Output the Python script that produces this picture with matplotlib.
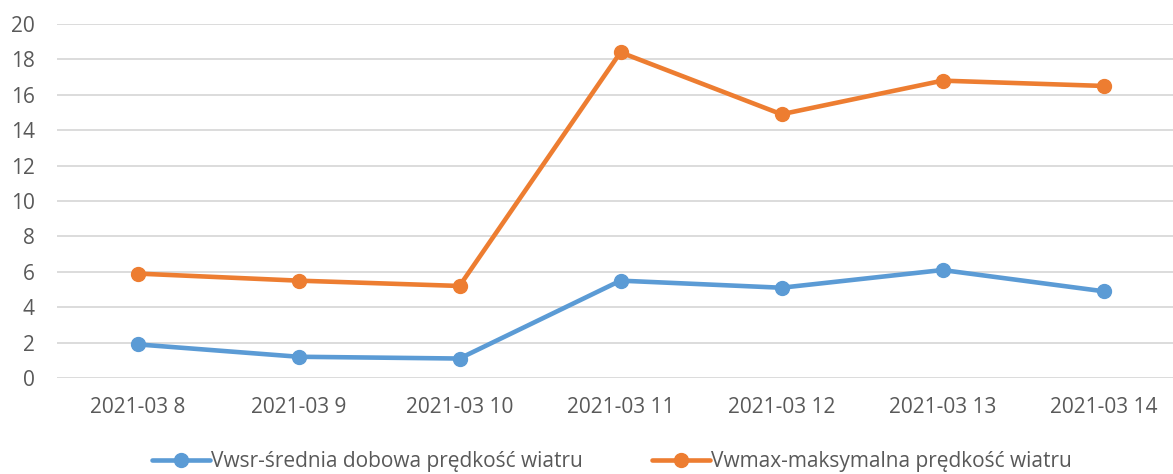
import matplotlib
matplotlib.use("Agg")
import matplotlib.pyplot as plt

categories = ["2021-03 8", "2021-03 9", "2021-03 10", "2021-03 11",
              "2021-03 12", "2021-03 13", "2021-03 14"]
vwsr = [1.9, 1.2, 1.1, 5.5, 5.1, 6.1, 4.9]
vwmax = [5.9, 5.5, 5.2, 18.4, 14.9, 16.8, 16.5]
labels = ["Vwsr-średnia dobowa prędkość wiatru", "Vwmax-maksymalna prędkość wiatru"]
yticks = list(range(0, 21, 2))

plt.rcParams['font.family'] = ['Open Sans', 'DejaVu Sans']
W, H = 1173, 474
fig = plt.figure(figsize=(W / 100, H / 100), dpi=100)
left, right, top, bottom = 57, 1184, 24, 378
ax = fig.add_axes([left / W, (H - bottom) / H, (right - left) / W, (bottom - top) / H])

x = list(range(len(categories)))
ax.plot(x, vwsr, color="#5B9BD5", lw=3.3, marker="o", ms=10, label=labels[0], solid_capstyle="round")
ax.plot(x, vwmax, color="#ED7D31", lw=3.3, marker="o", ms=10, label=labels[1], solid_capstyle="round")

ax.set_xlim(-0.5, len(categories) - 0.5)
ax.set_ylim(0, 20)
ax.set_yticks(yticks)
ax.set_xticks(x)
ax.set_xticklabels(categories)
ax.grid(axis="y", color="#D9D9D9", lw=1.3)
ax.set_axisbelow(True)
for s in ax.spines.values():
    s.set_visible(False)
ax.tick_params(length=0, colors="#595959", labelsize=15)
ax.tick_params(axis="y", pad=16)
ax.tick_params(axis="x", pad=14)

leg = fig.legend(loc="center", bbox_to_anchor=(612 / W, 1 - 462 / H), ncol=2, frameon=False,
                 fontsize=15, handlelength=2.8, handletextpad=0.05, columnspacing=3.3,
                 labelcolor="#595959")

fig.savefig("out.png", dpi=100)
